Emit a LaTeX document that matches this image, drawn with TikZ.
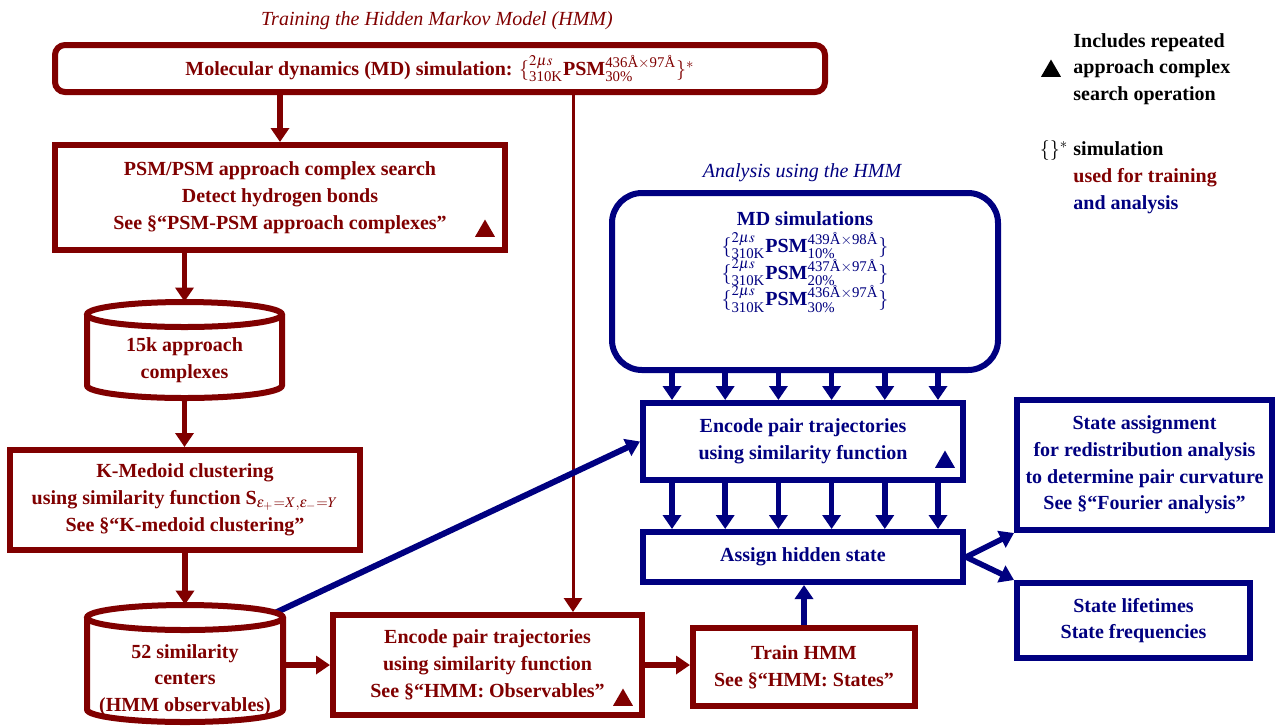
\documentclass[tikz,border=0pt]{standalone}
\usepackage{amsmath}
\usepackage{mathptmx}
\usepackage{fontspec}
\setmainfont{Liberation Serif}
\usetikzlibrary{arrows.meta,shapes.geometric}
\definecolor{myred}{RGB}{128,0,0}
\definecolor{myblue}{RGB}{0,0,128}
\newcommand\psmf[3]{$\{{}^{2\mu s}_{\textnormal{310K}}\textbf{PSM}^{\textnormal{#1Å}\times\textnormal{#2Å}}_{\textnormal{#3\%}}\}$}
\begin{document}
\begin{tikzpicture}[x=0.5pt,y=-0.5pt,
 txt/.style={font={\bfseries\fontsize{10}{13.4}\selectfont\lineskiplimit=-50pt}, align=center, inner sep=0pt},
 ittxt/.style={font={\itshape\fontsize{10}{13.4}\selectfont}, inner sep=0pt},
 redbox/.style={txt, draw=myred, text=myred, line width=3pt, fill=white},
 bluebox/.style={txt, draw=myblue, text=myblue, line width=3pt, fill=white},
 redarr/.style={draw=myred, line width=2.8pt, -{Triangle[width=9pt,length=7pt]}},
 thinarr/.style={draw=myred, line width=1.5pt, -{Triangle[width=9pt,length=7pt]}},
 bluearr/.style={draw=myblue, line width=2.8pt, -{Triangle[width=9pt,length=7pt]}},
 tri/.style={regular polygon, regular polygon sides=3, fill=#1, inner sep=0pt, minimum size=11.5pt},
 cyl/.style={draw=myred, line width=3pt, fill=white},
]
\useasboundingbox (0,0) rectangle (1275,725);

% titles
\node[ittxt, text=myred] (title) at (437,21) {Training the Hidden Markov Model (HMM)};
\node[ittxt, text=myblue] (title2) at (802,173) {Analysis using the HMM};

% red column
\node[redbox, rounded corners=5pt, minimum width=385pt, minimum height=23.5pt] (md) at (440,68.5)
  {Molecular dynamics (MD) simulation: \psmf{436}{97}{30}$^*$};
\node[redbox, minimum width=225pt, minimum height=52.5pt] (psm) at (280,197.5)
  {PSM/PSM approach complex search\\Detect hydrogen bonds\\See §``PSM-PSM approach complexes''};
\node[tri=myred] (t1) at (485,231) {};
\node[minimum width=97.5pt, minimum height=48pt, inner sep=0pt] (c1) at (184.5,350) {};
\node[redbox, minimum width=175pt, minimum height=50pt] (km) at (185,500)
  {K-Medoid clustering\\using similarity function S$_{\epsilon_+=X,\epsilon_-=Y}$\\See §``K-medoid clustering''};
\node[minimum width=98pt, minimum height=58.5pt, inner sep=0pt] (c2) at (185,663.5) {};
\node[redbox, minimum width=154.5pt, minimum height=50pt] (enc1) at (487.5,665)
  {Encode pair trajectories\\using similarity function\\See §``HMM: Observables''};
\node[tri=myred] (t2) at (623,700) {};
\node[redbox, minimum width=111pt, minimum height=39pt] (train) at (804,667)
  {Train HMM\\See §``HMM: States''};

% blue column
\node[bluebox, rounded corners=15pt, minimum width=193pt, minimum height=88.5pt] (mdsim) at (805,281.5) {};
\node[txt, text=myblue] (mdtxt) at (805,262)
  {MD simulations\\\psmf{439}{98}{10}\\\psmf{437}{97}{20}\\\psmf{436}{97}{30}};
\node[bluebox, minimum width=160pt, minimum height=38.5pt] (enc2) at (803,441.5)
  {Encode pair trajectories\\using similarity function};
\node[tri=myblue] (t3) at (945,462) {};
\node[bluebox, minimum width=160pt, minimum height=25pt] (assign) at (803,557) {Assign hidden state};
\node[bluebox, minimum width=127.5pt, minimum height=65pt] (sa) at (1144.5,465)
  {State assignment\\for redistribution analysis\\to determine pair curvature\\See §``Fourier analysis''};
\node[bluebox, minimum width=116.5pt, minimum height=37.5pt] (sl) at (1133.5,620.5)
  {State lifetimes\\State frequencies};

% legend
\node[tri=black] (lt) at (1051,71) {};
\node[txt, anchor=west, align=left] (l1) at (1073,69) {Includes repeated\\approach complex\\search operation};
\node[inner sep=0pt, font={\fontsize{10}{13.4}\selectfont}] (l2) at (1054,151) {$\{\}^*$};
\node[txt, anchor=west, align=left] (l3) at (1073,177.5)
  {simulation\\\textcolor{myred}{used for training}\\\textcolor{myblue}{and analysis}};

% red arrows
\draw[redarr] (md.south -| psm.north) -- (psm.north);
\draw[redarr] (psm.south -| c1.north) -- (c1.north);
\draw[redarr] (c1.south) -- (c1.south |- km.north);
\draw[redarr] (km.south) -- (km.south |- c2.north);
\draw[redarr] (c2.east |- enc1.west) -- (enc1.west);
\draw[redarr] (enc1.east) -- (enc1.east -| train.west);
\coordinate (xr) at (573,0);
\draw[thinarr] (md.south -| xr) -- (enc1.north -| xr);

% blue arrows
\draw[bluearr] (train.north) -- (train.north |- assign.south);
\foreach \i in {0,...,5}{
  \coordinate (xa\i) at (672+53.2*\i,0);
  \draw[bluearr] (mdsim.south -| xa\i) -- (enc2.north -| xa\i);
  \draw[bluearr] (enc2.south -| xa\i) -- (assign.north -| xa\i);
}
\draw[bluearr] (assign.east) -- (sa.south west);
\draw[bluearr] (assign.east) -- (sl.north west);
\draw[bluearr, line width=3pt] ([xshift=-6pt,yshift=-5pt]c2.north east) -- (enc2.west);

% cylinders
\filldraw[cyl] (87,314.5) -- (87,385.5) arc[start angle=180,end angle=0,x radius=97.5,y radius=12.5] -- (282,314.5);
\filldraw[cyl] (184.5,314.5) ellipse [x radius=97.5, y radius=12.5];
\filldraw[cyl] (87,617.5) -- (87,709.5) arc[start angle=180,end angle=0,x radius=98,y radius=12.5] -- (283,617.5);
\filldraw[cyl] (185,617.5) ellipse [x radius=98, y radius=12.5];
\node[txt, text=myred] (c1t) at (184.5,360.5) {15k approach\\complexes};
\node[txt, text=myred] (c2t) at (185,680) {52 similarity\\centers\\(HMM observables)};
\end{tikzpicture}
\end{document}
